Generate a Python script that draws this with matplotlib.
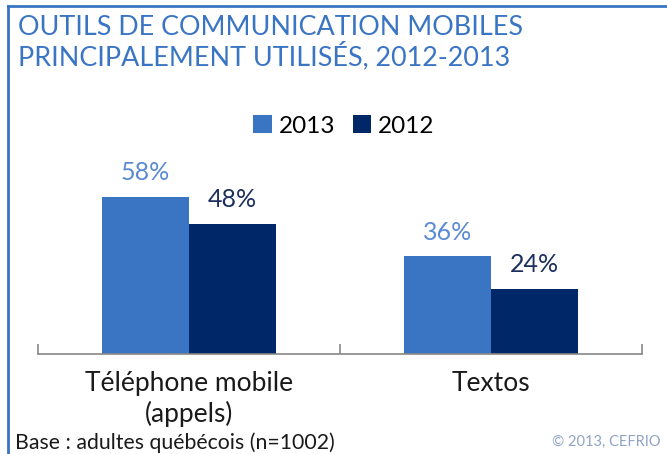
import numpy as np
import matplotlib.pyplot as plt
from matplotlib.lines import Line2D

# data
categories = ["Téléphone mobile\n(appels)", "Textos"]
years = ["2013", "2012"]
values_2013 = [58, 36]
values_2012 = [48, 24]

c2013 = "#3a75c4"
c2012 = "#002768"
lbl2013 = "#5b8ad4"
lbl2012 = "#1c2f5e"
FONT = "Lato"

W, H = 667, 454
fig = plt.figure(figsize=(W / 100, H / 100), dpi=100)

# axes placed in pixel coords: x 38..642, baseline y=354
ax_top = 160
ax = fig.add_axes([38 / W, (H - 354) / H, (642 - 38) / W, (354 - ax_top) / H])
x = np.arange(len(categories))
bw = 0.288
b1 = ax.bar(x - bw / 2, values_2013, bw, color=c2013, label=years[0])
b2 = ax.bar(x + bw / 2, values_2012, bw, color=c2012, label=years[1])
ax.set_xlim(-0.5, 1.5)
ax.set_ylim(0, (354 - ax_top) / 2.71)

for bars, col in ((b1, lbl2013), (b2, lbl2012)):
    for r in bars:
        ax.annotate(f"{int(r.get_height())}%", (r.get_x() + r.get_width() / 2, r.get_height()),
                    xytext=(0, 9), textcoords="offset points", ha="center", va="bottom",
                    fontsize=18, color=col, family=FONT)

for s in ("top", "right", "left"):
    ax.spines[s].set_visible(False)
ax.spines["bottom"].set_color("#888888")
ax.spines["bottom"].set_linewidth(1.2)
ax.set_yticks([])
ax.set_xticks([-0.5, 0.5, 1.5])
ax.set_xticklabels([])
ax.tick_params(axis="x", direction="in", length=7, color="#888888", width=1.2)
for xi, cat in zip(x, categories):
    ax.text(xi, -0.09, cat, transform=ax.get_xaxis_transform(), ha="center", va="top",
            fontsize=19, color="#1a1a1a", family=FONT, linespacing=1.2)

leg = fig.legend(handles=[b1, b2], labels=years, loc="center", bbox_to_anchor=(344 / W, 1 - 126 / H),
                 ncol=2, frameon=False, handlelength=0.75, handleheight=0.75, handletextpad=0.3,
                 columnspacing=0.7, prop={"family": FONT, "size": 17.5})

# frame lines
fig.add_artist(Line2D([8 / W, 1], [1 - 6 / H, 1 - 6 / H], color=c2013, lw=2, transform=fig.transFigure))
fig.add_artist(Line2D([8 / W, 8 / W], [0, 1 - 6 / H], color=c2013, lw=2, transform=fig.transFigure))

fig.text(18 / W, 1 - 15 / H, "OUTILS DE COMMUNICATION MOBILES\nPRINCIPALEMENT UTILISÉS, 2012-2013",
         ha="left", va="top", fontsize=19.4, color=c2013, family=FONT, linespacing=1.05)
fig.text(15 / W, 1 - 443 / H, "Base : adultes québécois (n=1002)", ha="left", va="center",
         fontsize=15.3, color="#1a1a1a", family=FONT)
fig.text(661 / W, 1 - 442 / H, "© 2013, CEFRIO", ha="right", va="center",
         fontsize=10.5, color="#8fa3c4", family=FONT)

fig.savefig("out.png", dpi=100)
